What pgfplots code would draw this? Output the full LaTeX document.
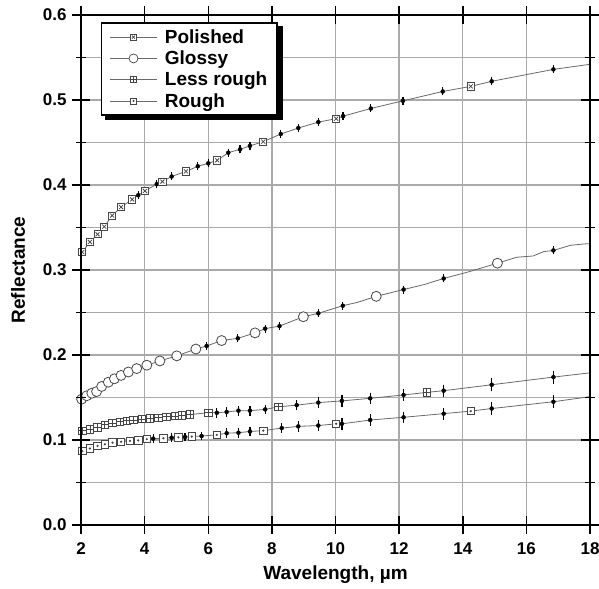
\documentclass[border=0pt]{standalone}
\usepackage{fontspec}
\setmainfont{Liberation Sans}
\usepackage{pgfplots}
\usepackage{pgfplotstable}
\pgfplotsset{compat=1.18}

\pgfdeclareplotmark{sqx}{%
 \pgfpathrectangle{\pgfpoint{-\pgfplotmarksize}{-\pgfplotmarksize}}{\pgfpoint{2\pgfplotmarksize}{2\pgfplotmarksize}}%
 \pgfusepathqfillstroke
 \pgfpathmoveto{\pgfpoint{-.55\pgfplotmarksize}{-.55\pgfplotmarksize}}%
 \pgfpathlineto{\pgfpoint{.55\pgfplotmarksize}{.55\pgfplotmarksize}}%
 \pgfpathmoveto{\pgfpoint{-.55\pgfplotmarksize}{.55\pgfplotmarksize}}%
 \pgfpathlineto{\pgfpoint{.55\pgfplotmarksize}{-.55\pgfplotmarksize}}%
 \pgfusepathqstroke}
\pgfdeclareplotmark{sqplus}{%
 \pgfpathrectangle{\pgfpoint{-\pgfplotmarksize}{-\pgfplotmarksize}}{\pgfpoint{2\pgfplotmarksize}{2\pgfplotmarksize}}%
 \pgfusepathqfillstroke
 \pgfpathmoveto{\pgfpoint{0pt}{-\pgfplotmarksize}}%
 \pgfpathlineto{\pgfpoint{0pt}{\pgfplotmarksize}}%
 \pgfpathmoveto{\pgfpoint{-\pgfplotmarksize}{0pt}}%
 \pgfpathlineto{\pgfpoint{\pgfplotmarksize}{0pt}}%
 \pgfusepathqstroke}
\pgfdeclareplotmark{sqdot}{%
 \pgfpathrectangle{\pgfpoint{-\pgfplotmarksize}{-\pgfplotmarksize}}{\pgfpoint{2\pgfplotmarksize}{2\pgfplotmarksize}}%
 \pgfusepathqfillstroke
 \pgfpathcircle{\pgfpoint{0pt}{0pt}}{.18\pgfplotmarksize}%
 \pgfusepathqfillstroke}

\definecolor{lin}{RGB}{105,105,105}
\definecolor{mk}{RGB}{70,70,70}
\definecolor{grd}{RGB}{170,170,170}

% ---------- data ----------
\pgfplotstableread{
x y
2.00 0.320
2.04 0.321
2.28 0.333
2.52 0.342
2.73 0.351
2.98 0.364
3.26 0.374
3.61 0.383
3.80 0.388
4.01 0.393
4.38 0.401
4.56 0.404
4.85 0.410
5.30 0.416
5.67 0.422
6.00 0.4255
6.28 0.429
6.63 0.438
7.00 0.442
7.31 0.446
7.73 0.451
8.28 0.460
8.83 0.467
9.46 0.474
10.02 0.478
10.24 0.481
11.11 0.490
12.12 0.499
13.37 0.510
14.25 0.516
14.91 0.522
16.85 0.536
18.00 0.542
}\tabPolished
\pgfplotstableread{
x y
2.04 0.321
2.28 0.333
2.52 0.342
2.73 0.351
2.98 0.364
3.26 0.374
3.61 0.383
4.01 0.393
4.56 0.404
5.30 0.416
6.28 0.429
7.73 0.451
10.02 0.478
14.25 0.516
}\tabPolishedM
\pgfplotstableread{
x y e
3.80 0.388 0.002
4.38 0.401 0.002
4.85 0.410 0.002
5.67 0.422 0.002
6.00 0.4255 0.002
6.63 0.438 0.002
7.00 0.442 0.002
7.31 0.446 0.002
8.28 0.460 0.002
8.83 0.467 0.002
9.46 0.474 0.002
10.24 0.481 0.002
11.11 0.490 0.002
12.12 0.499 0.002
13.37 0.510 0.002
14.91 0.522 0.002
16.85 0.536 0.002
}\tabPolishedE

\pgfplotstableread{
x y
2.00 0.147
2.02 0.148
2.18 0.152
2.34 0.155
2.49 0.157
2.65 0.163
2.86 0.168
3.05 0.172
3.26 0.176
3.49 0.180
3.75 0.184
4.07 0.188
4.48 0.193
5.01 0.199
5.61 0.207
5.95 0.2106
6.42 0.217
6.93 0.2196
7.47 0.226
7.79 0.231
8.24 0.234
8.99 0.245
9.46 0.249
10.23 0.258
10.70 0.262
11.28 0.269
12.14 0.277
12.80 0.283
13.40 0.290
14.20 0.298
15.09 0.308
15.70 0.315
16.22 0.3165
16.54 0.3216
16.85 0.323
17.38 0.329
17.80 0.3306
18.00 0.331
}\tabGlossy
\pgfplotstableread{
x y
2.02 0.148
2.18 0.152
2.34 0.155
2.49 0.157
2.65 0.163
2.86 0.168
3.05 0.172
3.26 0.176
3.49 0.180
3.75 0.184
4.07 0.188
4.48 0.193
5.01 0.199
5.61 0.207
6.42 0.217
7.47 0.226
8.99 0.245
11.28 0.269
15.09 0.308
}\tabGlossyM
\pgfplotstableread{
x y e
5.95 0.2106 0.002
6.93 0.2196 0.002
7.79 0.231 0.002
8.24 0.234 0.002
9.46 0.249 0.002
10.23 0.258 0.002
12.14 0.277 0.002
13.40 0.290 0.002
16.85 0.323 0.002
}\tabGlossyE

\pgfplotstableread{
x y
2.00 0.110
2.04 0.111
2.28 0.1125
2.52 0.115
2.75 0.118
2.99 0.120
3.23 0.1216
3.44 0.1227
3.65 0.1235
3.91 0.1247
4.17 0.1255
4.43 0.126
4.69 0.1274
4.96 0.128
5.17 0.129
5.43 0.130
6.00 0.132
6.27 0.132
6.58 0.133
6.95 0.1345
7.31 0.1345
7.79 0.136
8.20 0.139
8.78 0.141
9.46 0.144
10.20 0.146
11.09 0.149
12.14 0.153
12.87 0.156
13.40 0.158
14.91 0.165
16.85 0.174
18.00 0.179
}\tabLess
\pgfplotstableread{
x y
2.04 0.111
2.28 0.1125
2.52 0.115
2.75 0.118
2.99 0.120
3.23 0.1216
3.44 0.1227
3.65 0.1235
3.91 0.1247
4.17 0.1255
4.43 0.126
4.69 0.1274
4.96 0.128
5.17 0.129
5.43 0.130
6.00 0.132
8.20 0.139
12.87 0.156
}\tabLessM
\pgfplotstableread{
x y e
6.27 0.132 0.003
6.58 0.133 0.003
6.95 0.1345 0.003
7.31 0.1345 0.003
7.79 0.136 0.003
8.78 0.141 0.0035
9.46 0.144 0.0035
10.20 0.146 0.004
11.09 0.149 0.004
12.14 0.153 0.004
13.40 0.158 0.0045
14.91 0.165 0.005
16.85 0.174 0.005
}\tabLessE

\pgfplotstableread{
x y
2.00 0.086
2.04 0.087
2.28 0.090
2.52 0.093
2.75 0.095
2.99 0.097
3.26 0.098
3.54 0.099
3.80 0.0995
4.07 0.101
4.27 0.1016
4.59 0.102
4.85 0.1027
5.06 0.1031
5.27 0.1035
5.48 0.104
5.79 0.1047
6.27 0.106
6.58 0.108
6.95 0.1086
7.31 0.110
7.73 0.111
8.31 0.114
8.83 0.116
9.46 0.117
10.02 0.119
10.20 0.119
11.09 0.1235
12.14 0.1267
13.40 0.131
14.25 0.134
14.91 0.137
16.85 0.145
18.00 0.151
}\tabRough
\pgfplotstableread{
x y
2.04 0.087
2.28 0.090
2.52 0.093
2.75 0.095
2.99 0.097
3.26 0.098
3.54 0.099
3.80 0.0995
4.07 0.101
4.59 0.102
5.06 0.1031
5.48 0.104
6.27 0.106
7.73 0.111
10.02 0.119
14.25 0.134
}\tabRoughM
\pgfplotstableread{
x y e
4.27 0.1016 0.0025
4.85 0.1027 0.0025
5.27 0.1035 0.0025
5.79 0.1047 0.0025
6.58 0.108 0.003
6.95 0.1086 0.003
7.31 0.110 0.003
8.31 0.114 0.003
8.83 0.116 0.0035
9.46 0.117 0.0035
10.20 0.119 0.004
11.09 0.1235 0.004
12.14 0.1267 0.004
13.40 0.131 0.0045
14.91 0.137 0.005
16.85 0.145 0.005
}\tabRoughE

\pgfplotsset{
 base/.style={
  scale only axis,
  width=509pt, height=510pt,
  xmin=2, xmax=18, ymin=0, ymax=0.6,
  xtick={2,4,...,18},
  ytick={0,0.1,...,0.61},
  minor ytick={0.05,0.15,...,0.56},
 },
 legbase/.style={
  legend style={at={(rel axis cs:0.0387,0.986)}, anchor=north west,
     line width=1.8pt,
     font=\fontsize{19}{19}\selectfont\bfseries,
     row sep=3pt, inner xsep=8pt, inner ysep=5pt,
     nodes={inner sep=1.5pt},
     /tikz/every odd column/.append style={column sep=6pt}},
  legend cell align=left,
  legend image code/.code={\draw[mark repeat=2, mark phase=2, ##1] plot coordinates {(0pt,0pt) (23.5pt,0pt) (47pt,0pt)};},
 },
}

\begin{document}
\begin{tikzpicture}
% 1: grid only (no plots)
\begin{axis}[base,
  xmajorgrids, ymajorgrids, yminorgrids,
  major grid style={grd, line width=1.3pt},
  minor grid style={grd, line width=1.3pt},
  major tick length=0pt, minor tick length=0pt,
  xticklabels={}, yticklabels={},
  axis line style={draw=none},
]
\end{axis}
% 2: legend shadow (no plots)
\begin{axis}[base, legbase, hide axis,
  legend style={draw=black, fill=black, text=black, xshift=4pt, yshift=-4pt},
]
\addlegendimage{black}\addlegendentry{Polished}
\addlegendimage{black}\addlegendentry{Glossy}
\addlegendimage{black}\addlegendentry{Less rough}
\addlegendimage{black}\addlegendentry{Rough}
\end{axis}
% 3: data and legend
\begin{axis}[base, legbase,
  hide axis,
  legend style={draw=black, fill=white},
]
\addlegendimage{lin, line width=0.8pt, mark=sqx, mark size=2.8pt, mark options={mk, fill=white, line width=0.7pt}}
\addlegendentry{Polished}
\addlegendimage{lin, line width=0.8pt, mark=*, mark size=4.5pt, mark options={mk, fill=white, line width=0.7pt}}
\addlegendentry{Glossy}
\addlegendimage{lin, line width=0.8pt, mark=sqplus, mark size=3pt, mark options={mk, fill=white, line width=0.7pt}}
\addlegendentry{Less rough}
\addlegendimage{lin, line width=0.8pt, mark=sqdot, mark size=3pt, mark options={mk, fill=white, line width=0.7pt}}
\addlegendentry{Rough}

\addplot[lin, line width=0.8pt, forget plot] table {\tabPolished};
\addplot[lin, line width=0.8pt, forget plot] table {\tabGlossy};
\addplot[lin, line width=0.8pt, forget plot] table {\tabLess};
\addplot[lin, line width=0.8pt, forget plot] table {\tabRough};

\pgfplotsset{ebar/.style={forget plot, only marks, mark=none, black,
   error bars/.cd, y dir=both, y explicit,
   error bar style={black, line width=1.2pt},
   error mark options={black, mark size=2.3pt, line width=1.3pt}}}
\addplot[ebar] table[x=x, y=y, y error=e] {\tabPolishedE};
\addplot[ebar] table[x=x, y=y, y error=e] {\tabGlossyE};
\addplot[ebar] table[x=x, y=y, y error=e] {\tabLessE};
\addplot[ebar] table[x=x, y=y, y error=e] {\tabRoughE};

\addplot[forget plot, only marks, mark=sqx, mark size=3.6pt, mark options={mk, fill=white, line width=0.8pt}] table {\tabPolishedM};
\addplot[forget plot, only marks, mark=*, mark size=5pt, mark options={mk, fill=white, line width=0.8pt}] table {\tabGlossyM};
\addplot[forget plot, only marks, mark=sqplus, mark size=3.7pt, mark options={mk, fill=white, line width=0.8pt}] table {\tabLessM};
\addplot[forget plot, only marks, mark=sqdot, mark size=3.7pt, mark options={mk, fill=white, line width=0.8pt}] table {\tabRoughM};
\end{axis}
% 4: frame and ticks (no plots, no labels)
\begin{axis}[base,
  axis line style={black, line width=1.8pt},
  tick align=center,
  major tick length=18pt,
  minor tick length=10pt,
  tick style={black, line width=1.5pt},
  xticklabels={}, yticklabels={},
]
\end{axis}
% 5: text labels
\begin{axis}[base,
  name=ax,
  axis line style={draw=none},
  major tick length=0pt, minor tick length=0pt,
  xticklabels={2,4,6,8,10,12,14,16,18},
  yticklabels={0.0,0.1,0.2,0.3,0.4,0.5,0.6},
  ticklabel style={font=\fontsize{17}{17}\selectfont\bfseries},
  xticklabel shift=14pt,
  yticklabel shift=11pt,
  xlabel={Wavelength, µm},
  ylabel={Reflectance},
  label style={font=\fontsize{19}{19}\selectfont\bfseries},
  xlabel style={at={(axis description cs:0.5,0)}, anchor=center, yshift=-50pt},
  ylabel style={at={(axis description cs:0,0.5)}, anchor=center, yshift=63pt},
]
\end{axis}
\pgfresetboundingbox
\useasboundingbox ([xshift=-81pt,yshift=-64pt]ax.south west) rectangle ([xshift=9pt,yshift=15pt]ax.north east);
\end{tikzpicture}
\end{document}
